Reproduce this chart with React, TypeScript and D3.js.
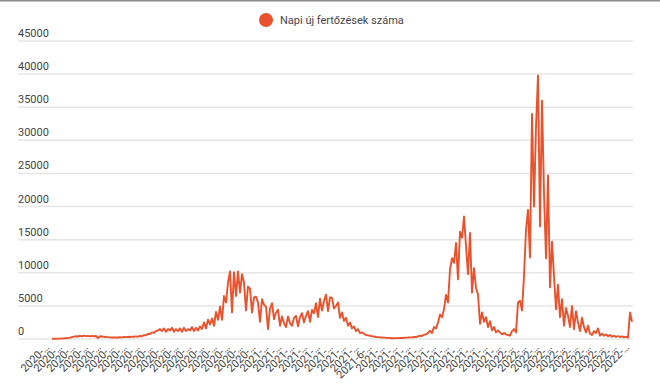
import { useMemo } from "react";
import * as d3 from "d3";

const WIDTH = 660;
const HEIGHT = 385;
const MARGIN = { top: 41, right: 28, bottom: 46, left: 52 };
const GRID_LEFT = 18;
const GRID_RIGHT = 633;
const LINE_COLOR = "#e8532d";
const TEXT_COLOR = "#444";
const FONT = "Roboto, 'Noto Sans', Arial, sans-serif";

const seriesName = "Napi új fertőzések száma";

// daily new infections (evenly spaced samples)
const dailyCases = [
  20, 30, 40, 50, 60, 80, 90, 110, 130, 200,
  280, 350, 420, 380, 480, 420, 500, 430, 470, 400,
  480, 420, 460, 150, 420, 380, 330, 300, 280, 250,
  230, 220, 250, 230, 260, 240, 300, 280, 330, 300,
  360, 340, 400, 360, 450, 420, 600, 550, 800, 750,
  1000, 950, 1200, 1300, 1500, 1200, 1600, 1100, 1500, 1300,
  1700, 1100, 1500, 1200, 1600, 1100, 1700, 1200, 1500, 1300,
  1800, 1200, 1700, 1300, 1900, 1500, 2500, 1600, 2900, 2200,
  3100, 2000, 4100, 2900, 4900, 2900, 6500, 5500, 8500, 10200,
  4000, 10100, 6500, 10200, 7000, 9800, 8500, 4300, 7900, 7600,
  4000, 6300, 6400, 5500, 2600, 6000, 5200, 4900, 1500, 4600,
  5400, 3000, 4000, 4400, 2000, 3400, 2400, 1800, 3400, 2400,
  2000, 3200, 3500, 1900, 3300, 3900, 2500, 3500, 4200, 2600,
  4400, 3900, 5400, 3300, 6100, 4300, 5700, 6700, 4200, 6300,
  6200, 4600, 5000, 5500, 3200, 4000, 2700, 3200, 2000, 2500,
  1600, 1900, 1200, 1500, 900, 1000, 800, 600, 550, 500,
  400, 380, 300, 280, 250, 230, 200, 180, 170, 160,
  120, 120, 130, 130, 150, 150, 180, 200, 220, 250,
  250, 300, 300, 400, 500, 450, 650, 700, 900, 1250,
  900, 1800, 1600, 2500, 3700, 3300, 4500, 6700, 5500, 10500,
  12200, 11500, 14500, 9000, 16200, 15300, 18500, 14000, 9800, 16000,
  7000, 10700, 7700, 6700, 2300, 4000, 2600, 3300, 1800, 2700,
  1300, 1800, 1000, 1300, 1000, 700, 900, 700, 600, 500,
  1200, 1500, 1000, 5500, 5800, 4300, 9500, 16500, 19500, 12300,
  34000, 20000, 32000, 39800, 17000, 36000, 22000, 12200, 24700, 7800,
  14700, 9500, 4500, 8200, 3300, 6000, 2000, 4700, 3500, 1800,
  5000, 1500, 4200, 2500, 1200, 3200, 1800, 1000, 2000, 800,
  600, 1200, 900, 1600, 500, 800, 500, 700, 400, 600,
  350, 500, 300, 450, 300, 400, 250, 350, 200, 4000,
  2600,
];

const yTicks = [0, 5000, 10000, 15000, 20000, 25000, 30000, 35000, 40000, 45000];

// category labels as drawn (truncated by the chart)
const xTickLabels = [
  ...Array(17).fill("2020-…"),
  ...Array(8).fill("2021-…"),
  "2021-6-…",
  ...Array(10).fill("2021-…"),
  ...Array(10).fill("2022-…"),
];

export default function App() {
  const boundsWidth = WIDTH - MARGIN.left - MARGIN.right;
  const boundsHeight = HEIGHT - MARGIN.top - MARGIN.bottom;

  const xScale = useMemo(
    () =>
      d3
        .scaleLinear()
        .domain([0, dailyCases.length - 1])
        .range([0, boundsWidth]),
    [boundsWidth]
  );

  const yScale = useMemo(
    () => d3.scaleLinear().domain([0, 45000]).range([boundsHeight, 0]),
    [boundsHeight]
  );

  const labelScale = d3
    .scalePoint<number>()
    .domain(xTickLabels.map((_, i) => i))
    .range([0, boundsWidth]);

  const linePath = d3
    .line<number>()
    .x((_, i) => xScale(i))
    .y((d) => yScale(d))(dailyCases);

  return (
    <svg
      width={WIDTH}
      height={HEIGHT}
      style={{ position: "absolute", left: 0, top: 0, background: "#fff" }}
      fontFamily={FONT}
    >
      <rect x={0} y={0} width={WIDTH} height={1.5} fill="#8c8c8c" />

      {/* legend */}
      <circle cx={266} cy={20} r={7} fill={LINE_COLOR} />
      <text x={280} y={24} fontSize={11} fill={TEXT_COLOR}>
        {seriesName}
      </text>

      <g transform={`translate(${MARGIN.left},${MARGIN.top})`}>
        {yTicks.map((t) => (
          <g key={t}>
            <line
              x1={GRID_LEFT - MARGIN.left}
              x2={GRID_RIGHT - MARGIN.left}
              y1={yScale(t)}
              y2={yScale(t)}
              stroke="#e6e6e6"
              strokeWidth={1.5}
            />
            <text
              x={GRID_LEFT - MARGIN.left}
              y={yScale(t) - 4}
              fontSize={11}
              fill={TEXT_COLOR}
            >
              {t}
            </text>
          </g>
        ))}

        <path
          d={linePath ?? ""}
          fill="none"
          stroke={LINE_COLOR}
          strokeWidth={1.9}
          strokeLinejoin="round"
        />

        {xTickLabels.map((label, i) => {
          const x = (labelScale(i) ?? 0) - 2;
          const y = boundsHeight + 9;
          return (
            <text
              key={i}
              x={x}
              y={y}
              fontSize={11}
              fill={TEXT_COLOR}
              textAnchor="end"
              transform={`rotate(-45,${x},${y})`}
            >
              {label}
            </text>
          );
        })}
      </g>
    </svg>
  );
}
